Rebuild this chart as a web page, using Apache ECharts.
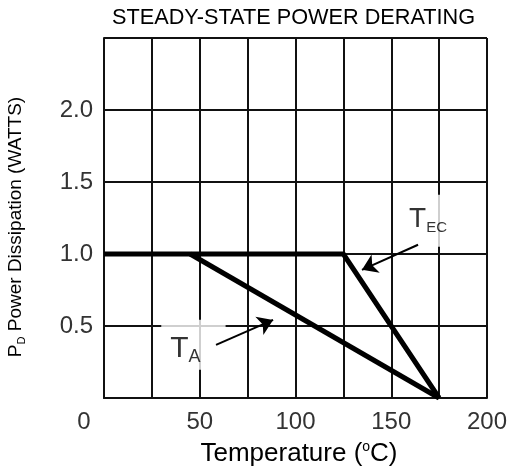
<!DOCTYPE html>
<html>
<head>
<meta charset="utf-8">
<script src="https://cdn.jsdelivr.net/npm/echarts@6/dist/echarts.min.js"></script>
<style>
html,body{margin:0;padding:0;background:#fff;}
#chart{width:513px;height:476px;}
</style>
</head>
<body>
<div id="chart"></div>
<script>
// ---- data ----
const tecTemp = [0, 125, 175];
const tecPower = [1.0, 1.0, 0.0];
const taTemp = [45, 175];
const taPower = [1.0, 0.0];
const xTickLabels = ['0', '50', '100', '150', '200'];
const yTickLabels = ['0.5', '1.0', '1.5', '2.0'];
const titleText = 'STEADY-STATE POWER DERATING';

// annotation anchors (data coordinates)
const taLabelAt = [46.7, 0.369];
const tecLabelAt = [169.2, 1.231];
const taArrow = [[58.5, 0.369], [88.3, 0.542]];
const tecArrow = [[164, 1.064], [134.7, 0.89]];

function hasFont(name) {
  const c = document.createElement('canvas').getContext('2d');
  c.font = '40px monospace';
  const w1 = c.measureText('0123456789.').width;
  c.font = '40px "' + name + '", monospace';
  const w2 = c.measureText('0123456789.').width;
  return Math.abs(w1 - w2) > 0.5;
}
const narrow = hasFont('Liberation Sans Narrow');
const tickFamily = narrow ? '"Liberation Sans Narrow"' : '"Liberation Sans"';
const tickSize = narrow ? 28 : 24;
const ARIAL = '"Liberation Sans", Arial, sans-serif';

const chart = echarts.init(document.getElementById('chart'), null, {renderer: 'canvas'});

const option = {
  animation: false,
  backgroundColor: '#fff',
  title: {
    text: titleText,
    left: 112, top: 7, padding: 0,
    textStyle: {fontFamily: ARIAL, fontSize: 21.7, fontWeight: 'normal', color: '#000'}
  },
  grid: {left: 104, right: 26, top: 38, bottom: 78, containLabel: false, outerBoundsMode: 'none'},
  xAxis: {
    type: 'value', min: 0, max: 200, interval: 25,
    axisLine: {show: true, lineStyle: {color: '#111', width: 2}},
    axisTick: {show: false},
    splitLine: {show: true, showMinLine: true, showMaxLine: true, lineStyle: {color: '#111', width: 2}},
    axisLabel: {
      margin: 12,
      fontFamily: tickFamily, fontSize: tickSize, color: '#333',
      formatter: function (v) {
        const s = String(v);
        if (xTickLabels.indexOf(s) < 0) return '';
        if (v === 0) return '{z|' + s + '}';
        return s;
      },
      rich: {z: {fontFamily: tickFamily, fontSize: tickSize, color: '#333', padding: [0, 40, 0, 0]}}
    },
    name: '{a|Temperature (}{b|o}{a|C)}',
    nameLocation: 'middle', nameGap: 42,
    nameTextStyle: {
      padding: [0, 0, 0, 7],
      rich: {
        a: {fontFamily: ARIAL, fontSize: 26, lineHeight: 28, color: '#000'},
        b: {fontFamily: ARIAL, fontSize: 14, lineHeight: 14, verticalAlign: 'top', color: '#000'}
      }
    }
  },
  yAxis: {
    type: 'value', min: 0, max: 2.5, interval: 0.5,
    axisLine: {show: true, lineStyle: {color: '#111', width: 2}},
    axisTick: {show: false},
    splitLine: {show: true, showMinLine: true, showMaxLine: true, lineStyle: {color: '#111', width: 2}},
    axisLabel: {
      margin: 11,
      fontFamily: tickFamily, fontSize: tickSize, color: '#333',
      formatter: function (v) {
        const s = v.toFixed(1);
        return yTickLabels.indexOf(s) < 0 ? '' : s;
      }
    },
    name: '{a|P}{b|D}{a| Power Dissipation (WATTS)}',
    nameLocation: 'middle', nameGap: 77,
    nameTextStyle: {
      padding: [0, 18, 0, 0],
      rich: {
        a: {fontFamily: ARIAL, fontSize: 19, lineHeight: 22, color: '#000'},
        b: {fontFamily: ARIAL, fontSize: 11, lineHeight: 11, verticalAlign: 'bottom', color: '#000'}
      }
    }
  },
  series: [
    {
      name: 'TEC', type: 'line', z: 5, symbol: 'none', silent: true,
      data: tecTemp.map((t, i) => [t, tecPower[i]]),
      lineStyle: {color: '#000', width: 5, join: 'miter'}
    },
    {
      name: 'TA', type: 'line', z: 5, symbol: 'none', silent: true,
      data: taTemp.map((t, i) => [t, taPower[i]]),
      lineStyle: {color: '#000', width: 5}
    },
    {
      type: 'lines', coordinateSystem: 'cartesian2d', z: 6, silent: true,
      symbol: ['none', 'arrow'], symbolSize: 15,
      lineStyle: {color: '#000', width: 2, opacity: 1, curveness: 0},
      data: [{coords: taArrow}, {coords: tecArrow}]
    },
    {
      type: 'scatter', z: 4, symbol: 'circle', symbolSize: 1, silent: true,
      itemStyle: {color: 'rgba(255,255,255,0)'},
      labelLayout: {hideOverlap: false},
      data: [
        {value: taLabelAt, label: {
          show: true, position: 'inside', formatter: '{t|T}{s|A}',
          backgroundColor: '#fff', padding: [12, 25, 4, 9],
          rich: {
            t: {fontFamily: ARIAL, fontSize: 30, lineHeight: 34, color: '#000'},
            s: {fontFamily: ARIAL, fontSize: 18, lineHeight: 18, verticalAlign: 'bottom', color: '#000'}
          }
        }},
        {value: tecLabelAt, label: {
          show: true, position: 'inside', formatter: '{t|T}{s|EC}',
          backgroundColor: '#fff', padding: [9, 8, 11, 8],
          rich: {
            t: {fontFamily: ARIAL, fontSize: 28, lineHeight: 32, color: '#000'},
            s: {fontFamily: ARIAL, fontSize: 15, lineHeight: 15, verticalAlign: 'bottom', color: '#000'}
          }
        }}
      ]
    }
  ]
};
chart.setOption(option);
</script>
</body>
</html>
